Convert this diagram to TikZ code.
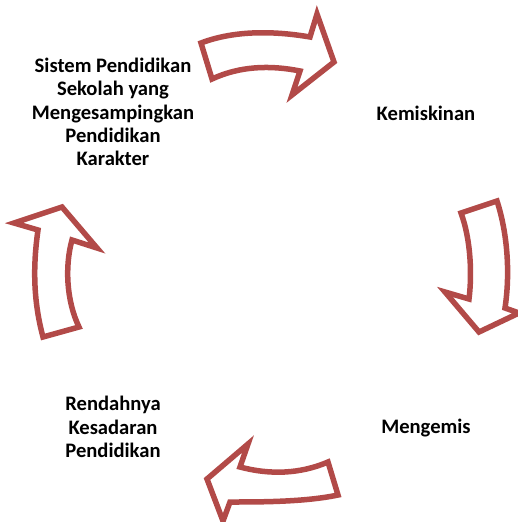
\documentclass[tikz,border=0pt]{standalone}
\usepackage{fontspec}
\setmainfont{Carlito}
\definecolor{arrowred}{RGB}{178,74,72}
\begin{document}
\begin{tikzpicture}[x=1pt,y=-1pt,
  cyclearrow/.style={draw=arrowred,line width=5.5pt,line join=miter,fill=white},
  lbl/.style={align=center,font=\fontsize{20.6}{23.3}\selectfont\bfseries,text=black,inner sep=0pt}]
\useasboundingbox (0,0) rectangle (517,522);
% top arrow
\draw[cyclearrow] (201,43) .. controls (235,30) and (275,31) .. (310,37) -- (317,14) -- (334,62) -- (292,95) -- (300,71) .. controls (270,65) and (240,66) .. (212,79) -- cycle;
% right arrow
\draw[cyclearrow] (461,213) -- (497,201) .. controls (508,235) and (510,275) .. (505,308) -- (519,313) -- (479,332) -- (445,292) -- (469,299) .. controls (472,275) and (471,240) .. (461,213) -- cycle;
% bottom arrow
\draw[cyclearrow] (328,462) -- (338,495) .. controls (305,502) and (260,502) .. (230,502) -- (223,521) -- (207,479) -- (248,444) -- (240,467) .. controls (270,475) and (300,474) .. (328,462) -- cycle;
% left arrow
\draw[cyclearrow] (43,337) -- (79,327) .. controls (66,300) and (65,265) .. (72,240) -- (97,248) -- (62,207) -- (14,223) -- (38,230) .. controls (33,265) and (33,300) .. (43,337) -- cycle;
\node[lbl] (sistem) at (113,112) {Sistem Pendidikan\\Sekolah yang\\Mengesampingkan\\Pendidikan\\Karakter};
\node[lbl] (kemiskinan) at (426,113) {Kemiskinan};
\node[lbl] (mengemis) at (426,428) {Mengemis};
\node[lbl] (rendah) at (113,427) {Rendahnya\\Kesadaran\\Pendidikan};
\end{tikzpicture}
\end{document}
